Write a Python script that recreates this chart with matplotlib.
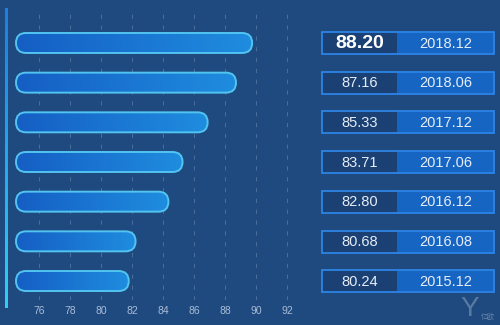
import numpy as np
import matplotlib
matplotlib.use('Agg')
import matplotlib.pyplot as plt
from matplotlib.patches import FancyBboxPatch, Rectangle
from matplotlib.colors import LinearSegmentedColormap

scores = [88.20, 87.16, 85.33, 83.71, 82.80, 80.68, 80.24]
periods = ['2018.12', '2018.06', '2017.12', '2017.06', '2016.12', '2016.08', '2015.12']
ticks = [76, 78, 80, 82, 84, 86, 88, 90, 92]

BG = '#1f4a80'
W, H = 500, 325
plt.rcParams['font.family'] = ['Liberation Sans', 'DejaVu Sans']


def px_box(x0, y0, x1, y1):
    # figure fraction box from pixel coords (top-left origin)
    return [x0 / W, 1 - y1 / H, (x1 - x0) / W, (y1 - y0) / H]


def main():
    fig = plt.figure(figsize=(5, 3.25), dpi=100)
    fig.patch.set_facecolor(BG)

    # bar area: 76 sits at px 39, 15.5 px per unit
    ax = fig.add_axes(px_box(0, 8, 300, 300))
    ax.set_facecolor(BG)
    x_left = 76 - 39 / 15.5
    x_right = 76 + 261 / 15.5
    row_px = 39.7
    for s in ax.spines.values():
        s.set_visible(False)
    ax.set_yticks([])
    ax.set_xticks(ticks)
    ax.set_xticklabels([str(t) for t in ticks])
    ax.tick_params(axis='x', length=0, pad=4, labelsize=7.5, labelcolor='#a8bcd6')

    for t in ticks:
        ax.axvline(t, ymin=0.0, ymax=0.99, color='#9fb3cc', lw=0.6, alpha=0.4,
                   linestyle=(0, (5, 8)), zorder=1)

    # the source draws bars ~1.5 units past its own tick scale
    bar_shift = 1.55
    bar_start = x_left + 16 / 15.5
    bar_h = 20 / row_px
    aspect = 15.5 / row_px
    grad = np.linspace(0, 1, 256).reshape(1, -1)
    cmap = LinearSegmentedColormap.from_list('bar', ['#155ec4', '#1f8ddf'])
    for i, v in enumerate(scores):
        end = v + bar_shift
        r = (bar_h / 2) / aspect
        patch = FancyBboxPatch((bar_start, i - bar_h / 2), end - bar_start, bar_h,
                               boxstyle='round,pad=0,rounding_size=%f' % r,
                               mutation_aspect=aspect,
                               facecolor='none', edgecolor='#52c4f0', lw=1.4, zorder=4)
        ax.add_patch(patch)
        im = ax.imshow(grad, cmap=cmap, aspect='auto', zorder=3,
                       extent=(bar_start, end, i + bar_h / 2, i - bar_h / 2))
        im.set_clip_path(patch)
    ax.set_xlim(x_left, x_right)
    ax.set_ylim(6 + 19 / row_px, -35 / row_px)

    # side line with vertical gradient
    side = fig.add_axes(px_box(5, 8, 8, 308))
    side.imshow(np.linspace(0, 1, 256).reshape(-1, 1), aspect='auto',
                cmap=LinearSegmentedColormap.from_list('side', ['#1d7fe0', '#2fd0f2']))
    side.axis('off')

    # overlay in pixel coords for the value boxes
    ov = fig.add_axes([0, 0, 1, 1])
    ov.set_xlim(0, W)
    ov.set_ylim(H, 0)
    ov.axis('off')
    ov.patch.set_alpha(0)

    for i, (v, p) in enumerate(zip(scores, periods)):
        yc = 43 + i * row_px
        top = yc - 11
        ov.add_patch(Rectangle((322, top), 75, 22, facecolor='#1b4174', edgecolor='none'))
        ov.add_patch(Rectangle((397, top), 97, 22, facecolor='#1765c2', edgecolor='none'))
        ov.add_patch(Rectangle((322, top), 172, 22, facecolor='none', edgecolor='#2d84e6', lw=1.3))
        if i == 0:
            ov.text(360, yc + 0.5, '%.2f' % v, ha='center', va='center', color='white',
                    fontsize=14, fontweight='bold')
        else:
            ov.text(360, yc + 0.5, '%.2f' % v, ha='center', va='center', color='#e6edf6', fontsize=10.5)
        ov.text(446, yc + 0.5, p, ha='center', va='center', color='#e6edf6', fontsize=10.5)

    # watermark
    ov.text(470, 309, 'Y', ha='center', va='center', color='#9fb3cc', alpha=0.45, fontsize=20)
    ov.text(488, 318, '亿欧', ha='center', va='center', color='#9fb3cc', alpha=0.6,
            fontsize=5, family=['Noto Sans CJK SC', 'DejaVu Sans'])

    plt.savefig('out.png', dpi=100, facecolor=BG)


if __name__ == "__main__":
    main()
